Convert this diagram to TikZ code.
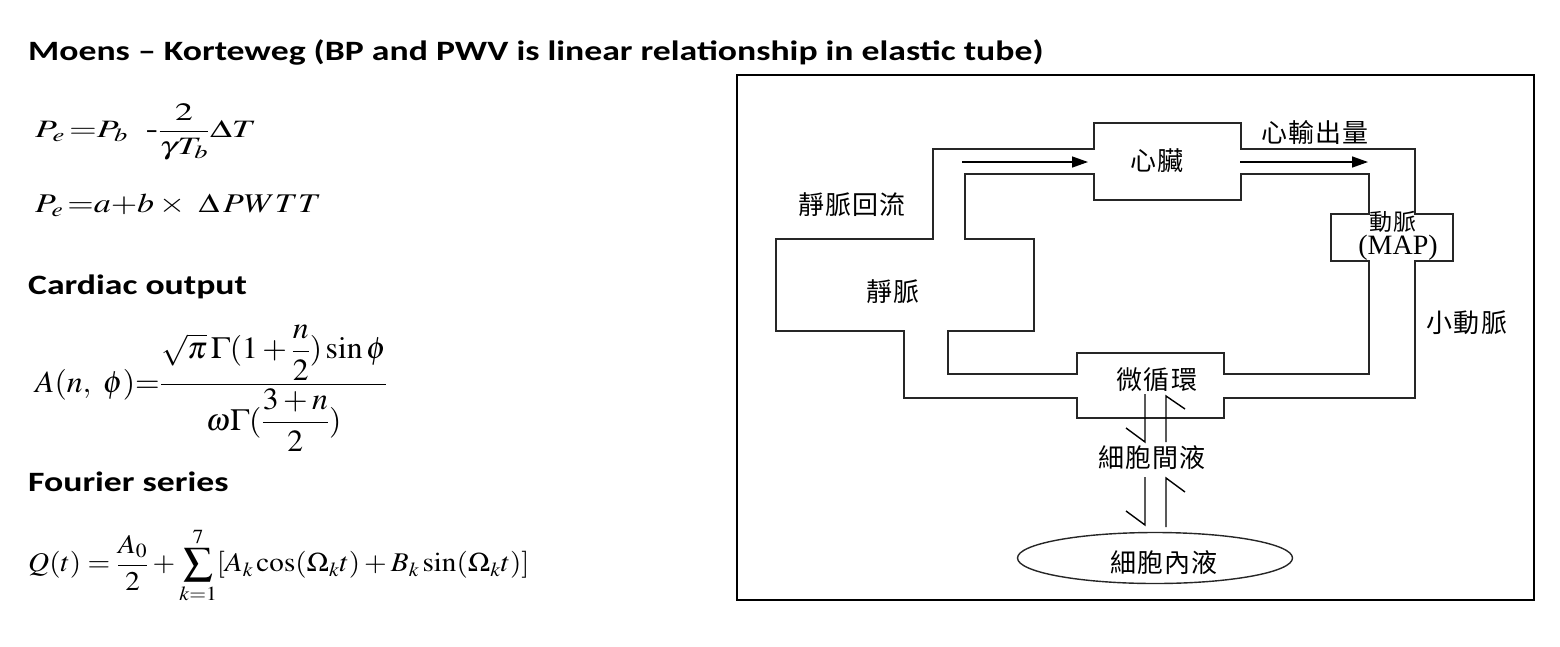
\documentclass[tikz,border=0pt]{standalone}
\usepackage{amsmath}
\usepackage{mathptmx}
\usepackage{fontspec}
\setmainfont{Liberation Serif}
\newfontfamily\headfont{Carlito}
\newfontfamily\cjk[LetterSpace=5]{Noto Sans CJK TC}
\usetikzlibrary{arrows.meta}
\newcommand{\wideby}[2]{\scalebox{#1}[1]{#2}}

\tikzset{
  tube/.style={line width=1.4pt, draw=black!85},
  flow/.style={line width=1.4pt, -{Triangle[length=16pt,width=11pt]}},
  half/.style={line width=1.4pt},
  zh/.style={font=\cjk\fontsize{26}{28}\selectfont, inner sep=0pt},
  head/.style={font=\headfont\bfseries\fontsize{28}{30}\selectfont, anchor=west, inner sep=0pt},
  eq/.style={anchor=west, inner sep=0pt}
}

\begin{document}
\begin{tikzpicture}[x=1pt,y=-1pt]
\useasboundingbox (0,0) rectangle (1560,646);

% left column
\node[head] (title) at (28,52) {\wideby{1.275}{Moens \textendash\ Korteweg (BP and PWV is linear relationship in elastic tube)}};
\node[eq, font=\fontsize{25}{27}\selectfont] (eqPe) at (35,132) {\wideby{1.43}{$P_e\mkern2mu{=}P_b\ \ \text{-}\dfrac{2}{\gamma T_b}\Delta T$}};
\node[eq, font=\fontsize{27}{30}\selectfont] (eqPeb) at (35,205) {\wideby{1.26}{$P_e\mkern2mu{=}a{+}b\times\ \Delta\,PWTT$}};
\node[head] (hdCO) at (28,287) {\wideby{1.275}{Cardiac output}};
\node[eq, font=\fontsize{28}{30}\selectfont] (eqA) at (35,388) {\scalebox{1.13}[1.1]{$A(n,\ \phi){=}\dfrac{\sqrt{\pi}\,\Gamma(1+\dfrac{n}{2})\sin\phi}{\omega\Gamma(\dfrac{3+n}{2})}$}};
\node[head] (hdFS) at (28,482) {\wideby{1.275}{Fourier series}};
\node[eq, font=\fontsize{27}{30}\selectfont] (eqQ) at (28,565) {\wideby{1.08}{$Q(t)=\dfrac{A_0}{2}+\displaystyle\sum_{k=1}^{7}[A_k\cos(\Omega_k t)+B_k\sin(\Omega_k t)]$}};

% frame
\draw[line width=2pt] (737,75) rectangle (1534,600);

% outer wall
\draw[tube] (1077,398) -- (904,398) -- (904,331) -- (776,331) -- (776,239)
  -- (933,239) -- (933,149) -- (1094,149) -- (1094,123) -- (1241,123)
  -- (1241,149) -- (1415,149) -- (1415,214) -- (1453,214) -- (1453,261)
  -- (1415,261) -- (1415,398) -- (1224,398) -- (1224,418) -- (1077,418) -- cycle;
% inner wall
\draw[tube] (1077,374) -- (948,374) -- (948,331) -- (1034,331) -- (1034,239)
  -- (965,239) -- (965,174) -- (1094,174) -- (1094,200) -- (1241,200)
  -- (1241,174) -- (1369,174) -- (1369,214) -- (1331,214) -- (1331,261)
  -- (1369,261) -- (1369,374) -- (1224,374) -- (1224,353) -- (1077,353) -- cycle;

% flow arrows
\coordinate (vrA) at (962,162);
\coordinate (vrB) at (1088,162);
\coordinate (coA) at (1240,162);
\coordinate (coB) at (1368,162);
\draw[flow] (vrA) -- (vrB);
\draw[flow] (coA) -- (coB);

% labels
\node[zh] (vr) at (852,205) {靜脈回流};
\node[zh] (vein) at (893,292) {靜脈};
\node[zh] (heart) at (1157,161) {心臟};
\node[zh] (co) at (1315,133) {心輸出量};
\node[font=\cjk\fontsize{23}{24}\selectfont, inner sep=0pt] (art) at (1393,222) {動脈};
\node[font=\fontsize{28}{30}\selectfont, inner sep=0pt, text height=18pt, text depth=5pt] (map) at (1398,248) {(MAP)};
\node[zh] (arteriole) at (1467,323) {小動脈};
\node[zh] (micro) at (1157,380) {微循環};
\node[zh] (isf) at (1152,458) {細胞間液};
\draw[tube] (1155,558) ellipse [x radius=137.5, y radius=25.5];
\node[zh] (icf) at (1164,563) {細胞內液};

% exchange half arrows
\draw[half] (1145,394) -- (1145,442) -- (1126,428);
\draw[half] (1166,442) -- (1166,396) -- (1185,409);
\draw[half] (1145,477) -- (1145,525) -- (1126,511);
\draw[half] (1166,527) -- (1166,478) -- (1185,492);

\end{tikzpicture}
\end{document}
